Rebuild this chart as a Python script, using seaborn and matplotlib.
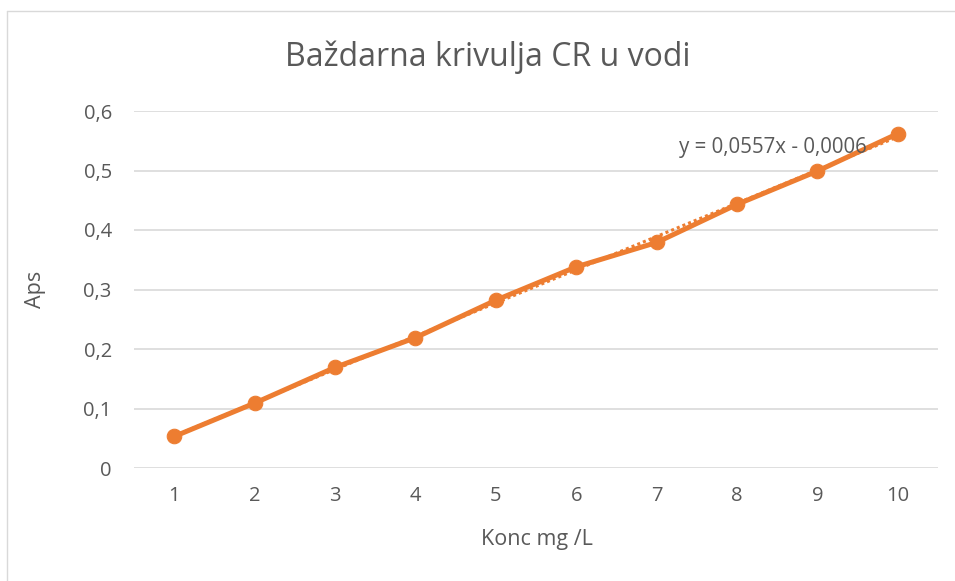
import numpy as np
import pandas as pd
import matplotlib
matplotlib.use("Agg")
import matplotlib.pyplot as plt
import seaborn as sns

# Data
konc = [1, 2, 3, 4, 5, 6, 7, 8, 9, 10]
aps = [0.053, 0.109, 0.169, 0.219, 0.282, 0.338, 0.379, 0.443, 0.499, 0.562]
y_ticks = [0, 0.1, 0.2, 0.3, 0.4, 0.5, 0.6]
y_tick_labels = ["0", "0,1", "0,2", "0,3", "0,4", "0,5", "0,6"]
trend_label = "y = 0,0557x - 0,0006"

ORANGE = "#ED7D31"
TEXT = "#595959"
GRID = "#D9D9D9"

sns.set_theme(style="white")
plt.rcParams["font.family"] = ["Open Sans", "DejaVu Sans"]

df = pd.DataFrame({"Konc": konc, "Aps": aps})

fig = plt.figure(figsize=(9.55, 5.81), dpi=100)
ax = fig.add_axes([134 / 955, 1 - 468 / 581, (938 - 134) / 955, (468 - 111) / 581])

# chart border (left and top visible)
fig.add_artist(plt.Line2D([7 / 955, 7 / 955], [0, 1 - 11 / 581], transform=fig.transFigure,
                          color=GRID, lw=1))
fig.add_artist(plt.Line2D([7 / 955, 1], [1 - 11 / 581, 1 - 11 / 581], transform=fig.transFigure,
                          color=GRID, lw=1))

# linear trendline (dotted)
sns.regplot(data=df, x="Konc", y="Aps", ax=ax, scatter=False, ci=None,
            line_kws=dict(color=ORANGE, lw=2.2, ls=(0, (1, 1))))

sns.lineplot(data=df, x="Konc", y="Aps", ax=ax, color=ORANGE, lw=3.6,
             marker="o", markersize=10.5, markeredgecolor=ORANGE)

ax.set_xlim(0.5, 10.5)
ax.set_ylim(0, 0.6)
ax.set_xticks(konc)
ax.set_xticklabels([str(k) for k in konc])
ax.set_yticks(y_ticks)
ax.set_yticklabels(y_tick_labels)
ax.yaxis.grid(True, color=GRID, lw=1.2)
ax.set_axisbelow(True)
for s in ax.spines.values():
    s.set_visible(False)
ax.tick_params(axis="both", length=0, labelsize=14.5, colors=TEXT)
ax.tick_params(axis="x", pad=13)
ax.tick_params(axis="y", pad=16)

ax.set_xlabel("Konc mg /L", fontsize=15.5, color=TEXT, va="center")
ax.xaxis.set_label_coords(0.501, -0.199)
ax.set_ylabel("Aps", fontsize=15.5, color=TEXT, va="center")
ax.yaxis.set_label_coords(-0.123, 0.499)

fig.text(488 / 955, 1 - 57 / 581, "Baždarna krivulja CR u vodi", ha="center", va="center",
         fontsize=23, color=TEXT)

ax.text(7.28, 0.538, trend_label, fontsize=14.8, color=TEXT, ha="left", va="center")

fig.savefig("out.png", dpi=100)
